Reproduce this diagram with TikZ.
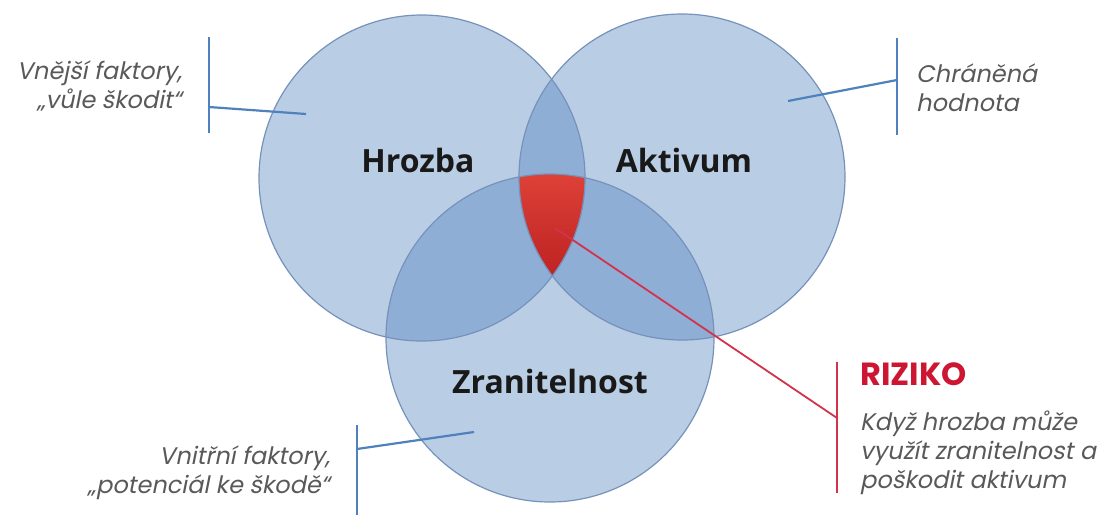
\documentclass[tikz,border=0pt]{standalone}
\usepackage{fontspec}
\setmainfont{Open Sans}
\newfontfamily\geo{Poppins}[FakeSlant=0.2]
\newfontfamily\geobold{Poppins}
\definecolor{vblue}{RGB}{79,129,189}
\definecolor{vedge}{RGB}{118,146,186}
\definecolor{tgray}{RGB}{89,89,89}
\definecolor{rred}{RGB}{204,22,50}
\definecolor{rline}{RGB}{210,50,75}
\definecolor{rtop}{RGB}{222,66,56}
\definecolor{rbot}{RGB}{186,30,32}
\definecolor{ttext}{RGB}{25,25,25}
\begin{document}
\begin{tikzpicture}[x=1pt,y=-1pt,
  vennfill/.style={circle, fill=vblue, fill opacity=0.4, inner sep=0pt, draw=none},
  vennedge/.style={draw=vedge, line width=1.2pt},
  bracket/.style={draw=vblue, line width=2.2pt},
  redline/.style={draw=rline, line width=1.8pt},
  title/.style={text=ttext, font=\bfseries\fontsize{32}{36}\selectfont, inner sep=0pt},
  itext/.style={text=tgray, font=\geo\fontsize{24}{29}\selectfont, inner sep=0pt},
]
\useasboundingbox (0,0) rectangle (1104,515);
% circles
\node[vennfill, minimum size=326pt] (H) at (422,178) {};
\node[vennfill, minimum size=326pt] (A) at (682,177) {};
\node[vennfill, minimum size=328pt] (Z) at (550,338) {};
% risk region
\begin{scope}
  \clip (H.center) circle[radius=163pt];
  \clip (A.center) circle[radius=163pt];
  \clip (Z.center) circle[radius=164pt];
  \shade[top color=rtop, bottom color=rbot] (480,170) rectangle (620,290);
\end{scope}
\draw[vennedge] (H.center) circle[radius=163pt];
\draw[vennedge] (A.center) circle[radius=163pt];
\draw[vennedge] (Z.center) circle[radius=164pt];
% titles
\node[title] (tH) at (418,160) {Hrozba};
\node[title] (tA) at (684,160) {Aktivum};
\node[title] (tZ) at (550,381) {Zranitelnost};
% brackets
\coordinate (b1a) at (209,37);
\coordinate (b1b) at (209,133);
\coordinate (b1m) at (209,107);
\coordinate (b1e) at (306,114);
\draw[bracket] (b1a) -- (b1b);
\draw[bracket] (b1m) -- (b1e);
\coordinate (b2a) at (897,38);
\coordinate (b2b) at (897,135);
\coordinate (b2m) at (897,80);
\coordinate (b2e) at (788,101);
\draw[bracket] (b2a) -- (b2b);
\draw[bracket] (b2m) -- (b2e);
\coordinate (b3a) at (357,425);
\coordinate (b3b) at (357,515);
\coordinate (b3m) at (357,449);
\coordinate (b3e) at (474,432);
\draw[bracket] (b3a) -- (b3b);
\draw[bracket] (b3m) -- (b3e);
% risk connector
\coordinate (r0) at (555,228);
\coordinate (ra) at (837,362);
\coordinate (rb) at (837,493);
\coordinate (rm) at (837,418);
\draw[redline] (ra) -- (rb);
\draw[redline] (r0) -- (rm);
% side texts
\node[itext, anchor=east, align=right] (vnej) at (182,86) {Vnější faktory,\\„vůle škodit“};
\node[itext, anchor=west, align=left] (chr) at (916,88) {Chráněná\\hodnota};
\node[itext, anchor=east, align=right] (vnit) at (330,473) {Vnitřní faktory,\\„potenciál ke škodě“};
\node[text=rred, font=\geobold\bfseries\fontsize{32}{36}\selectfont, inner sep=0pt, anchor=base west] (riz) at (860,385) {RIZIKO};
\node[itext, anchor=base west, align=left] (kdy) at (860,488) {Když hrozba může\\využít zranitelnost a\\poškodit aktivum};
\end{tikzpicture}
\end{document}
